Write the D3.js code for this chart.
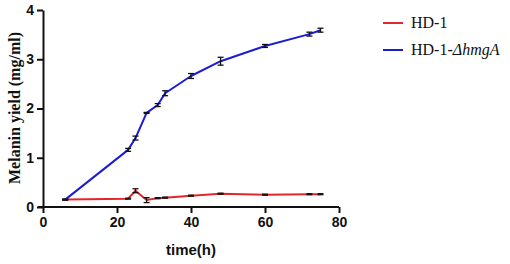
<!DOCTYPE html>
<html><head><meta charset="utf-8">
<script src="https://cdn.jsdelivr.net/npm/d3@7"></script>
<style>body{margin:0;background:#fff}</style>
</head><body>
<svg id="c" width="510" height="264"></svg>
<script>
const times = [6, 23, 25, 28, 31, 33, 40, 48, 60, 72, 75];
const hd1 = [0.15, 0.17, 0.33, 0.14, 0.18, 0.19, 0.23, 0.27, 0.25, 0.26, 0.26];
const hd1Err = [0.01, 0.01, 0.04, 0.05, 0.01, 0.01, 0.01, 0.01, 0.01, 0.01, 0.01];
const mut = [0.15, 1.16, 1.40, 1.91, 2.07, 2.31, 2.66, 2.96, 3.27, 3.51, 3.59];
const mutErr = [0.01, 0.03, 0.04, 0.01, 0.03, 0.05, 0.05, 0.08, 0.03, 0.04, 0.04];
const xTicks = [0, 20, 40, 60, 80];
const yTicks = [0, 1, 2, 3, 4];

const svg = d3.select("#c");
const x = d3.scaleLinear().domain([0, 80]).range([43, 339]);
const y = d3.scaleLinear().domain([0, 4]).range([207, 10]);

const series = [
  {name: "HD-1", vals: hd1, err: hd1Err, color: "#e3262b"},
  {name: "mut", vals: mut, err: mutErr, color: "#1c1cd4"}
];
const line = d3.line().x(d => x(d[0])).y(d => y(d[1]));

series.forEach(s => {
  const pts = times.map((t, i) => [t, s.vals[i], s.err[i]]);
  svg.append("path").attr("d", line(pts)).attr("fill", "none")
    .attr("stroke", s.color).attr("stroke-width", 2).attr("stroke-linejoin", "round");
  const g = svg.append("g").attr("stroke", "#111").attr("stroke-width", 1.3);
  pts.forEach(p => {
    const cx = x(p[0]), y1 = y(p[1] + p[2]), y2 = y(p[1] - p[2]);
    g.append("line").attr("x1", cx).attr("x2", cx).attr("y1", y1).attr("y2", y2);
    g.append("line").attr("x1", cx - 3).attr("x2", cx + 3).attr("y1", y1).attr("y2", y1);
    g.append("line").attr("x1", cx - 3).attr("x2", cx + 3).attr("y1", y2).attr("y2", y2);
  });
});

const xa = svg.append("g").attr("transform", "translate(0,207)")
  .call(d3.axisBottom(x).tickValues(xTicks).tickFormat(d3.format("d")).tickSize(6).tickSizeOuter(0).tickPadding(4));
const ya = svg.append("g").attr("transform", "translate(43,0)")
  .call(d3.axisLeft(y).tickValues(yTicks).tickFormat(d3.format("d")).tickSize(6).tickSizeOuter(0).tickPadding(3));
[xa, ya].forEach(a => {
  a.selectAll("path,line").attr("stroke", "#111").attr("stroke-width", 2);
  a.selectAll("text").attr("font-family", "Liberation Sans, Arial, sans-serif")
    .attr("font-weight", "bold").attr("font-size", 14).attr("fill", "#111");
});
xa.select("path").attr("d", "M38,0H339");

svg.append("text").attr("x", 191).attr("y", 255).attr("text-anchor", "middle")
  .attr("font-family", "Liberation Sans, Arial, sans-serif").attr("font-weight", "bold")
  .attr("font-size", 15).attr("fill", "#111").text("time(h)");

svg.append("text").attr("transform", "translate(20,108) rotate(-90)").attr("text-anchor", "middle")
  .attr("font-family", "Liberation Serif, Times New Roman, serif").attr("font-weight", "bold")
  .attr("font-size", 16).attr("fill", "#111").text("Melanin yield (mg/ml)");

const leg = [{y: 23, color: "#e3262b"}, {y: 50, color: "#1c1cd4"}];
leg.forEach(l => svg.append("line").attr("x1", 383).attr("x2", 403).attr("y1", l.y).attr("y2", l.y)
  .attr("stroke", l.color).attr("stroke-width", 2));
svg.append("text").attr("x", 411).attr("y", 28).attr("font-family", "Liberation Serif, Times New Roman, serif")
  .attr("font-size", 16).attr("fill", "#111").text("HD-1");
const t2 = svg.append("text").attr("x", 411).attr("y", 55).attr("font-family", "Liberation Serif, Times New Roman, serif")
  .attr("font-size", 16).attr("fill", "#111");
t2.append("tspan").text("HD-1-");
t2.append("tspan").attr("font-style", "italic").text("ΔhmgA");
</script>
</body></html>
